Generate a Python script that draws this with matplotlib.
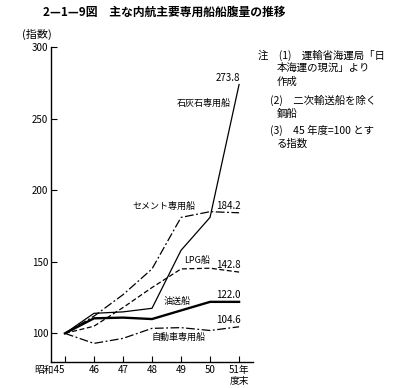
import matplotlib
matplotlib.use("Agg")
import matplotlib.pyplot as plt

plt.rcParams['font.family'] = ['Noto Sans CJK JP', 'DejaVu Sans']

years = [45, 46, 47, 48, 49, 50, 51]
year_labels = ['昭和45', '46', '47', '48', '49', '50', '51年\n度末']

limestone = [100, 114, 115, 117.5, 158, 181, 273.8]
cement = [100, 112, 127, 145, 181, 185, 184.2]
lpg = [100, 105, 118, 132, 145, 145.5, 142.8]
oil = [100, 110.5, 111, 110, 116, 122, 122.0]
car = [100, 93, 96.5, 103.5, 104, 102, 104.6]

W, H = 396, 388
fig = plt.figure(figsize=(W / 100, H / 100), dpi=100)


def px(x, y):
    return x / W, 1 - y / H


l, b = px(51, 362)
r, t = px(253, 47)
ax = fig.add_axes([l, b, r - l, t - b])

ax.plot(years, limestone, color='black', lw=0.9)
ax.plot(years, cement, color='black', lw=0.9, linestyle=(0, (7, 2, 1.5, 2)))
ax.plot(years, lpg, color='black', lw=0.9, linestyle=(0, (4, 2)))
ax.plot(years, oil, color='black', lw=1.7)
ax.plot(years, car, color='black', lw=0.9, linestyle=(0, (7, 2, 1.5, 2)))

ax.set_xlim(44.52, 51.48)
ax.set_ylim(80, 300)
ax.spines['top'].set_visible(False)
ax.spines['right'].set_visible(False)
ax.spines['left'].set_linewidth(1.0)
ax.spines['bottom'].set_linewidth(1.0)

ax.set_yticks([100, 150, 200, 250, 300])
ax.set_xticks(years)
ax.set_xticklabels(year_labels)
ax.tick_params(direction='in', length=4, width=0.8, labelsize=7, pad=2)
tl = ax.get_xticklabels()
tl[0].set_ha('right')
tl[0].set_x(45.05)
tl[-1].set_va('top')

# end values and series names
end_kw = dict(fontsize=7, ha='right', va='bottom')
ax.text(51.05, limestone[-1] + 1, f'{limestone[-1]:.1f}', **end_kw)
ax.text(51.05, cement[-1] + 1, f'{cement[-1]:.1f}', **end_kw)
ax.text(51.05, lpg[-1] + 1.5, f'{lpg[-1]:.1f}', **end_kw)
ax.text(51.05, oil[-1] + 1, f'{oil[-1]:.1f}', **end_kw)
ax.text(51.05, car[-1] + 1, f'{car[-1]:.1f}', **end_kw)

name_kw = dict(fontsize=6.5, va='center')
ax.text(50.72, 261, '石灰石専用船', ha='right', **name_kw)
ax.text(49.5, 189, 'セメント専用船', ha='right', **name_kw)
ax.text(49.55, 150, 'LPG船', ha='center', **name_kw)
ax.text(48.85, 122.5, '油送船', ha='center', **name_kw)
ax.text(48.9, 97.5, '自動車専用船', ha='center', **name_kw)

# title and notes
fig.text(*px(43, 12), '2—1—9図　主な内航主要専用船船腹量の推移',
         fontsize=8.5, fontweight='bold', va='center')
fig.text(*px(22, 34), '(指数)', fontsize=8, va='center')

notes = [
    (258, 55, '注　(1)　運輸省海運局「日'),
    (277, 68, '本海運の現況」より'),
    (277, 82, '作成'),
    (270, 100, '(2)　二次輸送船を除く'),
    (277, 114, '鋼船'),
    (270, 130, '(3)　45 年度=100 とす'),
    (277, 144, 'る指数'),
]
for x, y, s in notes:
    fig.text(*px(x, y), s, fontsize=7.5, va='center')

fig.savefig('out.png', dpi=100)
